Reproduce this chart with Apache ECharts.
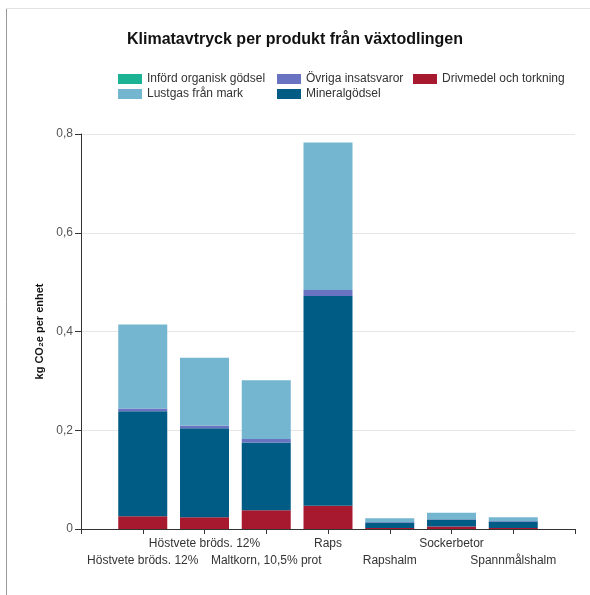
<!DOCTYPE html>
<html>
<head>
<meta charset="utf-8">
<script src="https://cdn.jsdelivr.net/npm/echarts@6/dist/echarts.min.js"></script>
<style>
  html, body { margin: 0; padding: 0; background: #fff; }
  #chart { width: 590px; height: 595px; }
</style>
</head>
<body>
<div id="chart"></div>
<script>
// Products along the x axis
const products = [
  'Höstvete bröds. 12%',
  'Höstvete bröds. 12%',
  'Maltkorn, 10,5% prot',
  'Raps',
  'Rapshalm',
  'Sockerbetor',
  'Spannmålshalm'
];

// Emission components, kg CO2e per unit (stacked bottom to top)
const drivmedel     = [0.026, 0.024, 0.038, 0.047, 0.002, 0.005, 0.002];
const mineralgodsel = [0.2125, 0.180, 0.137, 0.425, 0.011, 0.014, 0.013];
const ovriga        = [0.0055, 0.005, 0.0074, 0.012, 0.001, 0.001, 0.001];
const lustgas       = [0.170, 0.138, 0.119, 0.299, 0.008, 0.013, 0.008];
const organisk      = [0, 0, 0, 0, 0, 0, 0];

const yTicks = [0, 0.2, 0.4, 0.6, 0.8];

const names = {
  organisk: 'Införd organisk gödsel',
  ovriga: 'Övriga insatsvaror',
  drivmedel: 'Drivmedel och torkning',
  lustgas: 'Lustgas från mark',
  mineral: 'Mineralgödsel'
};

const colors = {
  organisk: '#1bb394',
  ovriga: '#6a72c2',
  drivmedel: '#a6192e',
  lustgas: '#74b5cf',
  mineral: '#005b85'
};

// The axis keeps an empty slot at each end, so pad categories and values
const axisCategories = [''].concat(products, ['']);
function padded(arr) {
  return ['-'].concat(arr, ['-']);
}

function barSeries(key, arr) {
  return {
    name: names[key],
    type: 'bar',
    stack: 'total',
    barWidth: 49,
    itemStyle: { color: colors[key] },
    emphasis: { disabled: true },
    data: padded(arr)
  };
}

const chart = echarts.init(document.getElementById('chart'), null, { renderer: 'canvas' });

const FONT = 'Liberation Sans, Arial, sans-serif';
const legendCommon = {
  orient: 'vertical',
  top: 73,
  itemWidth: 24,
  itemHeight: 10,
  itemGap: 3,
  icon: 'rect',
  padding: 0,
  textStyle: { fontFamily: FONT, fontSize: 12, color: '#333' },
  selectedMode: false
};

chart.setOption({
  animation: false,
  backgroundColor: '#fff',
  textStyle: { fontFamily: FONT },
  title: {
    text: 'Klimatavtryck per produkt från växtodlingen',
    left: 'center',
    top: 27,
    textStyle: { fontSize: 16, fontWeight: 'bold', color: '#111', fontFamily: FONT }
  },
  legend: [
    Object.assign({ left: 118, data: [names.organisk, names.lustgas] }, legendCommon),
    Object.assign({ left: 277, data: [names.ovriga, names.mineral] }, legendCommon),
    Object.assign({ left: 413, data: [names.drivmedel] }, legendCommon)
  ],
  grid: { left: 81, right: 15, top: 134, bottom: 66, containLabel: false },
  xAxis: {
    type: 'category',
    data: axisCategories,
    boundaryGap: false,
    splitLine: { show: false },
    axisLine: { show: true, lineStyle: { color: '#333', width: 1 } },
    axisTick: { show: true, length: 5, interval: 0, lineStyle: { color: '#333' } },
    axisLabel: {
      interval: 0,
      margin: 6,
      fontSize: 12,
      color: '#333',
      lineHeight: 17,
      fontFamily: FONT,
      formatter: function (name, idx) {
        if (!name) return '';
        return idx % 2 === 1 ? '\n' + name : name;
      }
    }
  },
  yAxis: {
    type: 'value',
    min: yTicks[0],
    max: yTicks[yTicks.length - 1],
    interval: 0.2,
    name: 'kg CO₂e per enhet',
    nameLocation: 'middle',
    nameGap: 35,
    nameTextStyle: { fontSize: 11, fontWeight: 'bold', color: '#111', fontFamily: FONT },
    axisLine: { show: true, lineStyle: { color: '#333', width: 1 } },
    axisTick: { show: true, length: 6, lineStyle: { color: '#333' } },
    splitLine: { show: true, lineStyle: { color: '#e6e6e6', width: 1 } },
    axisLabel: {
      margin: 8,
      fontSize: 12,
      color: '#555',
      fontFamily: FONT,
      formatter: function (v) { return String(+v.toFixed(1)).replace('.', ','); }
    }
  },
  graphic: [
    { type: 'line', shape: { x1: 6.5, y1: 8, x2: 6.5, y2: 595 }, style: { stroke: '#999', lineWidth: 1 }, silent: true },
    { type: 'line', shape: { x1: 6, y1: 8.5, x2: 590, y2: 8.5 }, style: { stroke: '#e2e2e2', lineWidth: 1 }, silent: true }
  ],
  series: [
    barSeries('drivmedel', drivmedel),
    barSeries('mineral', mineralgodsel),
    barSeries('ovriga', ovriga),
    barSeries('lustgas', lustgas),
    barSeries('organisk', organisk)
  ]
});
</script>
</body>
</html>
